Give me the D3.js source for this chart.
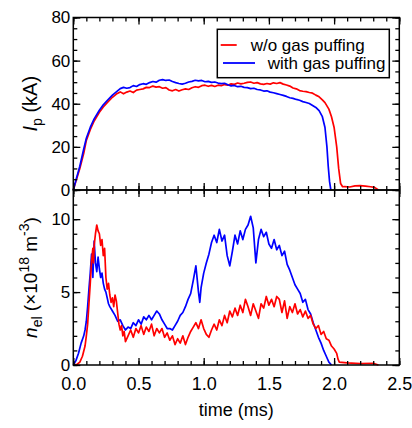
<!DOCTYPE html>
<html>
<head>
<meta charset="utf-8">
<script src="https://cdn.jsdelivr.net/npm/d3@7"></script>
<style>
  body { margin: 0; background: #fff; }
  svg { display: block; font-family: "Liberation Sans", Arial, sans-serif; }
</style>
</head>
<body>
<div id="chart"></div>
<script>
// x axis (time, ms)
const xMajor = [0, 0.5, 1.0, 1.5, 2.0, 2.5];
const xMinor = d3.range(0, 2.51, 0.1);
// top panel: plasma current Ip (kA)
const ipMajor = [0, 20, 40, 60, 80];
const ipMinor = d3.range(0, 81, 5);
// bottom panel: line averaged density (1e18 m^-3)
const neMajor = [0, 5, 10];
const neMinor = d3.range(0, 13, 1);

const seriesNames = ['w/o gas puffing', 'with gas puffing'];

// Ip, without gas puffing (red)
const tIpRed = [0, .02, .05, .08, .10, .13, .16, .20, .23, .26, .30, .33,
  .36, .385, .41, .435, .46, .485, .51, .535, .56, .585, .61, .635, .66, .685, .71, .735, .76, .785, .81, .835, .86, .885, .91, .935, .96, .985,
  1.01, 1.035, 1.06, 1.085, 1.11, 1.135, 1.16, 1.185, 1.21, 1.235, 1.26, 1.285, 1.31, 1.335, 1.36, 1.385, 1.41, 1.435, 1.46, 1.485,
  1.51, 1.535, 1.56, 1.585, 1.61, 1.635, 1.66, 1.685, 1.71, 1.735, 1.76, 1.785, 1.81, 1.835, 1.86, 1.885, 1.91,
  1.93, 1.96, 1.98, 2.00, 2.02, 2.035, 2.05, 2.065, 2.08, 2.12, 2.16, 2.2, 2.24, 2.28, 2.31, 2.34];
const ipRed = [0, 4, 10, 17, 23, 28, 32, 36, 38.5, 40.5, 43, 44.5,
  45.5, 44.6, 45.4, 45.9, 45.2, 46.3, 46.6, 46.9, 47.6, 47.5, 48.2, 47.7, 47.9, 47.2, 47.5, 46.4, 46.0, 46.6, 45.9, 46.5, 46.9, 46.6, 47.4, 47.9, 47.6, 48.4,
  48.6, 48.1, 48.5, 48.0, 48.6, 48.4, 48.9, 48.6, 49.2, 49.0, 49.6, 49.2, 49.5, 49.9, 50.1, 49.5, 49.8, 49.2, 49.0, 49.4,
  49.1, 49.7, 49.4, 49.8, 49.1, 48.7, 48.2, 47.3, 46.9, 46.1, 45.8, 45.6, 45.2, 44.9, 44.0, 43.2, 41.8,
  40.5, 37.5, 34, 29, 20, 10, 3, 1.5, 1.6, 1.4, 1.9, 2, 1.8, 1.5, 1.2, 0];

// Ip, with gas puffing (blue)
const tIpBlue = [0, .02, .05, .08, .10, .13, .16, .20, .23, .26, .30, .33,
  .36, .385, .41, .435, .46, .485, .51, .535, .56, .585, .61, .635, .66, .685, .71, .735, .76, .785, .81, .835, .86, .885, .91, .935, .96, .985,
  1.01, 1.035, 1.06, 1.085, 1.11, 1.135, 1.16, 1.185, 1.21, 1.235, 1.26, 1.285, 1.31, 1.335, 1.36, 1.385, 1.41, 1.435, 1.46, 1.485,
  1.51, 1.535, 1.56, 1.585, 1.61, 1.635, 1.66, 1.685, 1.71, 1.735, 1.76, 1.785, 1.81, 1.835, 1.86, 1.885, 1.91,
  1.93, 1.945, 1.955, 1.965, 1.975];
const ipBlue = [0, 4.5, 11, 19, 24, 29, 33, 37, 39.5, 41.5, 44, 45.5,
  47.0, 47.6, 47.2, 47.5, 48.4, 48.0, 48.9, 49.3, 49.0, 49.8, 50.3, 50.0, 50.9, 51.2, 50.8, 51.0, 50.3, 49.8, 49.4, 49.1, 49.5, 50.1, 50.4, 50.9, 50.6, 50.8,
  50.2, 50.4, 49.9, 50.1, 49.6, 49.3, 49.5, 48.8, 48.3, 48.5, 47.9, 48.1, 47.6, 47.5, 47.0, 47.2, 46.6, 46.4, 45.9, 46.0,
  45.4, 45.1, 44.7, 44.3, 43.9, 43.4, 42.8, 42.5, 42.0, 41.6, 41.0, 40.6, 40.1, 39.2, 38.3, 36.8, 34.0,
  29, 20, 11, 4, 0];

// n_el, without gas puffing (red)
const tNeRed = [0, .03, .05, .07, .09, .10, .11, .12, .13, .14, .15, .155, .16, .17, .18, .19, .20, .21, .22, .23, .24, .25, .26, .27, .28, .29, .30, .31, .32, .33, .34, .35, .36, .37, .38, .39, .40, .42, .44, .46, .48, .50, .52, .54, .56, .58, .60, .62, .64, .66, .68, .70, .72, .74, .76, .78, .80, .82, .84, .86, .88, .90, .92, .94, .96, .98, 1.00, 1.02, 1.04, 1.06, 1.08, 1.10, 1.12, 1.14, 1.16, 1.18, 1.20, 1.22, 1.24, 1.26, 1.28, 1.30, 1.32, 1.34, 1.36, 1.38, 1.40, 1.42, 1.44, 1.46, 1.48, 1.50, 1.52, 1.54, 1.56, 1.58, 1.60, 1.62, 1.64, 1.66, 1.68, 1.70, 1.72, 1.74, 1.76, 1.78, 1.80, 1.82, 1.84, 1.86, 1.88, 1.90, 1.92, 1.94, 1.96, 1.98, 2.00, 2.02, 2.03, 2.04, 2.10, 2.20, 2.30, 2.34];
const neRed = [0, 0.05, 0.2, 0.6, 1.3, 2.0, 2.8, 4.2, 5.6, 7.1, 8.0, 7.0, 8.2, 9.0, 9.6, 9.2, 9.0, 8.2, 8.6, 7.5, 8.0, 6.0, 5.2, 5.6, 4.8, 4.3, 4.6, 4.0, 4.8, 4.4, 3.6, 2.8, 2.4, 2.7, 2.0, 2.3, 1.6, 2.0, 2.4, 1.9, 2.5, 2.2, 2.7, 2.1, 2.6, 2.3, 2.8, 2.0, 2.5, 2.2, 2.5, 1.9, 2.2, 1.7, 2.0, 1.4, 1.8, 1.5, 2.0, 1.4, 1.9, 2.3, 2.6, 2.9, 2.5, 3.1, 2.5, 2.1, 1.9, 2.4, 2.8, 2.4, 3.1, 2.7, 3.4, 2.9, 3.7, 3.3, 3.9, 3.4, 4.1, 3.6, 4.5, 4.0, 3.4, 4.2, 3.7, 3.2, 4.2, 3.9, 4.7, 4.1, 4.5, 4.0, 4.7, 4.5, 3.6, 4.4, 3.2, 4.0, 3.6, 4.2, 3.5, 3.8, 3.3, 3.7, 3.2, 3.4, 2.8, 2.5, 2.7, 2.1, 2.3, 1.8, 1.7, 1.3, 1.1, 0.8, 0.4, 0.2, 0.15, 0.1, 0.12, 0];

// n_el, with gas puffing (blue)
const tNeBlue = [0, .02, .04, .06, .08, .09, .10, .11, .12, .13, .14, .15, .16, .17, .18, .19, .20, .21, .22, .23, .24, .25, .26, .27, .28, .30, .32, .34, .36, .38, .40, .42, .44, .46, .48, .50, .52, .54, .56, .58, .60, .62, .64, .66, .68, .70, .72, .74, .76, .78, .80, .82, .84, .86, .88, .90, .92, .94, .96, .97, .98, 1.00, 1.02, 1.04, 1.06, 1.08, 1.10, 1.12, 1.14, 1.16, 1.18, 1.20, 1.22, 1.24, 1.26, 1.28, 1.30, 1.32, 1.34, 1.36, 1.38, 1.40, 1.42, 1.44, 1.46, 1.48, 1.50, 1.52, 1.54, 1.56, 1.58, 1.60, 1.62, 1.64, 1.66, 1.68, 1.70, 1.72, 1.74, 1.76, 1.78, 1.80, 1.82, 1.84, 1.86, 1.88, 1.90, 1.92, 1.94, 1.96, 1.98];
const neBlue = [0, 0.3, 0.8, 1.5, 2.0, 2.4, 3.0, 4.0, 5.2, 6.3, 7.6, 6.0, 8.5, 7.0, 6.4, 7.4, 6.6, 6.0, 6.3, 5.6, 5.2, 5.0, 4.6, 4.2, 4.0, 3.7, 3.4, 3.0, 3.1, 2.7, 2.4, 2.6, 2.5, 2.9, 2.7, 3.1, 2.8, 3.3, 3.1, 3.4, 3.1, 3.4, 3.7, 3.5, 3.1, 2.8, 2.5, 2.5, 2.4, 2.7, 3.0, 3.4, 3.6, 4.0, 4.5, 4.9, 5.8, 6.8, 5.0, 4.3, 5.3, 6.3, 7.0, 7.6, 8.4, 8.9, 8.4, 9.3, 8.5, 8.9, 7.5, 6.8, 7.8, 8.9, 8.3, 9.2, 8.6, 9.3, 9.6, 10.2, 9.4, 7.0, 8.6, 9.3, 8.8, 9.1, 8.3, 8.0, 8.6, 7.9, 8.2, 7.5, 7.8, 6.9, 6.5, 6.0, 5.5, 5.2, 4.9, 4.3, 4.5, 3.8, 3.5, 2.9, 2.4, 1.9, 1.5, 1.0, 0.6, 0.2, 0];

const W = 412, H = 428;
const left = 73.3, right = 399.3;
const topPanel = { y0: 17.5, y1: 190 };
const botPanel = { y0: 190, y1: 365 };
const RED = '#ff0000', BLUE = '#0000ff';
const FONT = '"Liberation Sans", Arial, sans-serif';

const svg = d3.select('#chart').append('svg').attr('width', W).attr('height', H);

const x = d3.scaleLinear().domain([0, 2.5]).range([left, right]);
const yIp = d3.scaleLinear().domain([0, 80]).range([topPanel.y1, topPanel.y0]);
const yNe = d3.scaleLinear().domain([0, 12]).range([botPanel.y1, botPanel.y0]);

// inward ticks on all four sides of a panel, plus left labels and frame
function ticksFor(panel, y, yMaj, yMin) {
  const g = svg.append('g');
  const specs = [
    [d3.axisBottom(x), panel.y1, 'x'],
    [d3.axisTop(x), panel.y0, 'x'],
    [d3.axisLeft(y), left, 'y'],
    [d3.axisRight(y), right, 'y']
  ];
  specs.forEach(([ax, pos, dir]) => {
    const maj = dir === 'x' ? xMajor : yMaj;
    const min = dir === 'x' ? xMinor : yMin;
    const tr = dir === 'x' ? `translate(0,${pos})` : `translate(${pos},0)`;
    g.append('g').attr('transform', tr)
      .call(ax.tickValues(min).tickSize(-4).tickFormat(''))
      .call(s => s.select('.domain').remove());
    g.append('g').attr('transform', tr)
      .call(ax.tickValues(maj).tickSize(-7).tickFormat(''))
      .call(s => s.select('.domain').remove());
  });
  g.selectAll('line').attr('stroke', '#000').attr('stroke-width', 1.3);
  svg.append('g').attr('transform', `translate(${left},0)`)
    .call(d3.axisLeft(y).tickValues(yMaj).tickSize(0).tickPadding(3).tickFormat(d3.format('d')))
    .call(s => s.select('.domain').remove())
    .selectAll('text').attr('font-size', 17).attr('fill', '#000').attr('font-family', FONT);
  svg.append('rect')
    .attr('x', left).attr('y', panel.y0)
    .attr('width', right - left).attr('height', panel.y1 - panel.y0)
    .attr('fill', 'none').attr('stroke', '#000').attr('stroke-width', 1.5);
}

function drawLine(ts, vs, y, color) {
  const pts = ts.map((t, i) => [t, vs[i]]);
  svg.append('path').datum(pts)
    .attr('d', d3.line().x(d => x(d[0])).y(d => y(d[1])))
    .attr('fill', 'none').attr('stroke', color)
    .attr('stroke-width', 1.7).attr('stroke-linejoin', 'round');
}

// top panel
drawLine(tIpRed, ipRed, yIp, RED);
drawLine(tIpBlue, ipBlue, yIp, BLUE);
ticksFor(topPanel, yIp, ipMajor, ipMinor);

// bottom panel
drawLine(tNeBlue, neBlue, yNe, BLUE);
drawLine(tNeRed, neRed, yNe, RED);
ticksFor(botPanel, yNe, neMajor, neMinor);

// x tick labels
svg.append('g').attr('transform', `translate(0,${botPanel.y1})`)
  .call(d3.axisBottom(x).tickValues(xMajor).tickSize(0).tickPadding(12).tickFormat(d3.format('.1f')))
  .call(s => s.select('.domain').remove())
  .selectAll('text').attr('font-size', 18).attr('fill', '#000').attr('font-family', FONT);

svg.append('text')
  .attr('x', (left + right) / 2).attr('y', 416)
  .attr('text-anchor', 'middle').attr('font-size', 18)
  .text('time (ms)');

// y labels
const ipLab = svg.append('text')
  .attr('transform', `translate(37,${(topPanel.y0 + topPanel.y1) / 2}) rotate(-90)`)
  .attr('text-anchor', 'middle').attr('font-size', 20);
ipLab.append('tspan').attr('font-style', 'italic').text('I');
ipLab.append('tspan').attr('font-size', 14).attr('dy', 5).text('p');
ipLab.append('tspan').attr('dy', -5).text(' (kA)');

const neLab = svg.append('text')
  .attr('transform', `translate(37,${(botPanel.y0 + botPanel.y1) / 2}) rotate(-90)`)
  .attr('text-anchor', 'middle').attr('font-size', 19);
neLab.append('tspan').attr('font-style', 'italic').text('n');
neLab.append('tspan').attr('font-size', 14).attr('dy', 5).text('el');
neLab.append('tspan').attr('dy', -5).text(' (\u00d710');
neLab.append('tspan').attr('font-size', 14).attr('dy', -8).text('18');
neLab.append('tspan').attr('dy', 8).text(' m');
neLab.append('tspan').attr('font-size', 14).attr('dy', -8).text('-3');
neLab.append('tspan').attr('dy', 8).text(')');

// legend
const lg = svg.append('g');
lg.append('rect').attr('x', 217.3).attr('y', 29.3).attr('width', 172).attr('height', 48.4)
  .attr('fill', '#fff').attr('stroke', '#000').attr('stroke-width', 1.5);
lg.append('line').attr('x1', 220.7).attr('x2', 236.7).attr('y1', 45).attr('y2', 45)
  .attr('stroke', RED).attr('stroke-width', 1.8);
lg.append('text').attr('x', 250.7).attr('y', 50.5).attr('font-size', 17).text(seriesNames[0]);
lg.append('line').attr('x1', 223).attr('x2', 255).attr('y1', 63).attr('y2', 63)
  .attr('stroke', BLUE).attr('stroke-width', 1.8);
lg.append('text').attr('x', 267.7).attr('y', 68.5).attr('font-size', 17).text(seriesNames[1]);
</script>
</body>
</html>
